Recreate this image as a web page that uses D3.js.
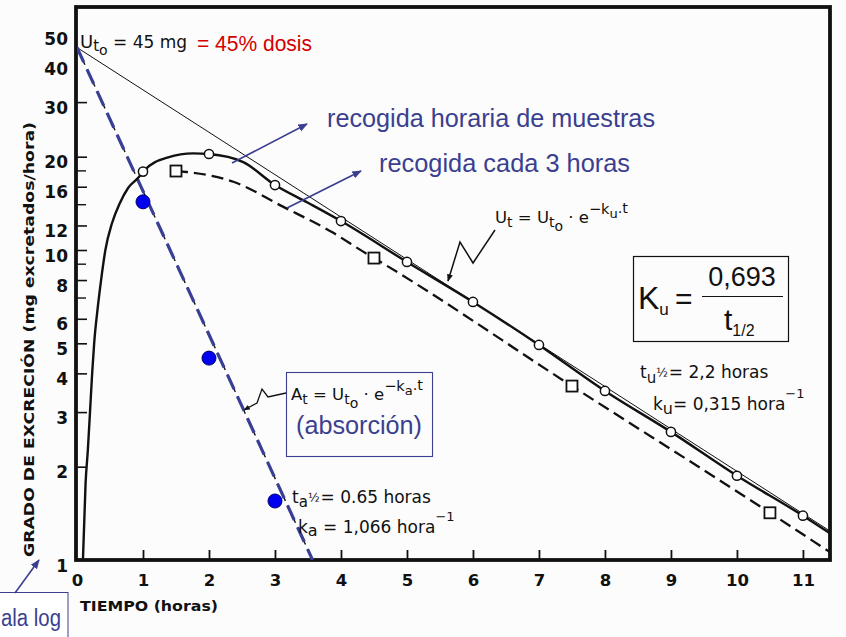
<!DOCTYPE html>
<html>
<head>
<meta charset="utf-8">
<script src="https://cdn.jsdelivr.net/npm/d3@7"></script>
<style>
  body { margin: 0; background: #fcfcfc; }
  svg { display: block; }
</style>
</head>
<body>
<svg id="chart" width="846" height="637"></svg>
<script>
// ---- Datos: excreción urinaria (mg/hora) frente al tiempo (horas) ----
// Recogida horaria de muestras (círculos abiertos)
const horasMuestreo = [1, 2, 3, 4, 5, 6, 7, 8, 9, 10, 11];
const excrecionHoraria = [17.9, 20.4, 16.2, 12.4, 9.15, 6.8, 4.94, 3.51, 2.59, 1.87, 1.39];

// Trazado de la curva continua (recogida horaria)
const curvaHorariaT = [0.09, 0.13, 0.164, 0.197, 0.23, 0.26, 0.31, 0.365, 0.43, 0.53, 0.645, 0.774, 0.927,
  1, 1.38, 1.76, 2, 2.52, 3, 3.5, 4, 5, 6, 7, 8, 9, 10, 11, 11.41];
const curvaHorariaV = [1.0, 1.77, 2.26, 3.0, 4.01, 5.0, 6.4, 8.0, 10.0, 12.2, 14.1, 15.85, 17.1,
  17.9, 19.9, 20.5, 20.4, 19.2, 16.2, 14.2, 12.4, 9.15, 6.8, 4.94, 3.51, 2.59, 1.87, 1.39, 1.22];

// Recogida cada 3 horas (cuadrados, punto medio del intervalo)
const horasTramo3h = [1.5, 4.5, 7.5, 10.5];
const excrecionTramo3h = [17.98, 9.42, 3.64, 1.42];

// Trazado de la curva discontinua (recogida cada 3 horas)
const curva3hT = [1.5, 1.66, 2.37, 3.12, 3.87, 4.37, 4.5, 7.5, 10.5, 11.41];
const curva3hV = [17.98, 17.85, 16.6, 13.8, 11.4, 9.78, 9.42, 3.64, 1.42, 1.06];

// Residuales de absorción (círculos azules)
const horasResiduales = [1, 2, 3];
const residuales = [14.3, 4.48, 1.55];

// Rectas: Ut = Uto·e^(-ku·t)  y  At = Uto·e^(-ka·t), con Uto = 45 mg
const uto = 45;
const rectaEliminacionT = [0, 11.41];
const rectaEliminacionV = [uto, 1.24];
const rectaAbsorcionT = [0, 3.57];
const rectaAbsorcionV = [uto, 1.0];

// Ejes
const ticksX = [0, 1, 2, 3, 4, 5, 6, 7, 8, 9, 10, 11];
const ticksY = [1, 2, 3, 4, 5, 6, 8, 10, 12, 16, 20, 30, 40, 50];
const ticksYMenores = [7, 9, 14, 18];

// ---- Escalas ----
const mLeft = 77, mRight = 830, mTop = 7, mBottom = 560;
const x = d3.scaleLinear().domain([0, 11.41]).range([mLeft, mRight]);
const y = d3.scaleLog().domain([1, 60.8]).range([mBottom, mTop]);

const svg = d3.select("#chart");
const navy = "#3b3f8f";
const blue = "#0000f0";
const red = "#d40000";

const defs = svg.append("defs");
defs.append("clipPath").attr("id", "plotArea")
  .append("rect").attr("x", mLeft).attr("y", mTop).attr("width", mRight - mLeft).attr("height", mBottom - mTop);

function marker(id, color, size) {
  defs.append("marker").attr("id", id)
    .attr("viewBox", "0 0 10 10").attr("refX", 9).attr("refY", 5)
    .attr("markerWidth", size).attr("markerHeight", size)
    .attr("orient", "auto-start-reverse")
    .append("path").attr("d", "M0,1 L10,5 L0,9 Z").attr("fill", color);
}
marker("flechaAzul", navy, 6);
marker("flechaNegra", "#111", 5);

// ---- Ejes ----
const fontEje = "'DejaVu Sans', sans-serif";

const ejeY = d3.axisLeft(y).tickValues(ticksY).tickFormat(d3.format("d"))
  .tickSizeInner(-10).tickSizeOuter(0).tickPadding(9);
const gy = svg.append("g").attr("transform", `translate(${mLeft},0)`).call(ejeY);
gy.select(".domain").remove();
gy.selectAll(".tick line").attr("stroke", "#111").attr("stroke-width", 1.6);
gy.selectAll(".tick text").attr("font-family", fontEje).attr("font-weight", "bold")
  .attr("font-size", 17).attr("fill", "#111").attr("dy", "0.65em");
gy.selectAll(".tick").filter(d => d === 1 || d === 50 || d === 40).select("line").remove();

svg.append("g").selectAll("line").data(ticksYMenores).join("line")
  .attr("x1", mLeft).attr("x2", mLeft + 9)
  .attr("y1", d => y(d)).attr("y2", d => y(d))
  .attr("stroke", "#111").attr("stroke-width", 1.4);

const ejeX = d3.axisBottom(x).tickValues(ticksX).tickFormat(d3.format("d"))
  .tickSizeInner(-10).tickSizeOuter(0).tickPadding(14);
const gx = svg.append("g").attr("transform", `translate(0,${mBottom})`).call(ejeX);
gx.select(".domain").remove();
gx.selectAll(".tick line").attr("stroke", "#111").attr("stroke-width", 1.8);
gx.selectAll(".tick").filter(d => d === 0).select("line").remove();
gx.selectAll(".tick text").attr("font-family", fontEje).attr("font-weight", "bold")
  .attr("font-size", 16.5).attr("fill", "#111");

// Marco del gráfico
svg.append("rect").attr("x", mLeft - 1).attr("y", mTop).attr("width", mRight - mLeft + 1).attr("height", mBottom - mTop)
  .attr("fill", "none").attr("stroke", "#111").attr("stroke-width", 3.8);

// Títulos de ejes
svg.append("text")
  .attr("transform", "translate(34,557) rotate(-90)")
  .attr("font-family", fontEje).attr("font-weight", "bold").attr("font-size", 14.5)
  .attr("fill", "#111")
  .attr("textLength", 435).attr("lengthAdjust", "spacingAndGlyphs")
  .text("GRADO DE EXCRECIÓN  (mg excretados/hora)");

svg.append("text").attr("x", 80).attr("y", 611)
  .attr("font-family", fontEje).attr("font-weight", "bold").attr("font-size", 14.5)
  .attr("fill", "#111")
  .attr("textLength", 138).attr("lengthAdjust", "spacingAndGlyphs")
  .text("TIEMPO (horas)");

// ---- Series ----
const plot = svg.append("g").attr("clip-path", "url(#plotArea)");
const linea = d3.line().x(d => x(d[0])).y(d => y(d[1]));
const lineaSuave = d3.line().x(d => x(d[0])).y(d => y(d[1])).curve(d3.curveMonotoneX);

// Recta de eliminación extrapolada (trazo fino)
plot.append("path").datum(d3.zip(rectaEliminacionT, rectaEliminacionV))
  .attr("d", linea).attr("fill", "none").attr("stroke", "#111").attr("stroke-width", 1);

// Recta de absorción: trazo negro discontinuo y trazo azul superpuesto
plot.append("path").datum(d3.zip(rectaAbsorcionT, rectaAbsorcionV))
  .attr("d", linea).attr("fill", "none").attr("stroke", "#111").attr("stroke-width", 1.4)
  .attr("stroke-dasharray", "7,5");
plot.append("path").datum(d3.zip(rectaAbsorcionT, rectaAbsorcionV))
  .attr("d", linea).attr("fill", "none").attr("stroke", "#3a3f96").attr("stroke-width", 3.2)
  .attr("stroke-dasharray", "16,8");

// Curva de recogida horaria (continua)
plot.append("path").datum(d3.zip(curvaHorariaT, curvaHorariaV))
  .attr("d", lineaSuave).attr("fill", "none").attr("stroke", "#111").attr("stroke-width", 2.4);

// Curva de recogida cada 3 horas (discontinua)
plot.append("path").datum(d3.zip(curva3hT, curva3hV))
  .attr("d", lineaSuave).attr("fill", "none").attr("stroke", "#111").attr("stroke-width", 2.3)
  .attr("stroke-dasharray", "12,6");

// Puntos
plot.append("g").selectAll("circle").data(d3.zip(horasMuestreo, excrecionHoraria)).join("circle")
  .attr("cx", d => x(d[0])).attr("cy", d => y(d[1])).attr("r", 4.6)
  .attr("fill", "#fff").attr("stroke", "#111").attr("stroke-width", 1.5);

const lado = 11;
plot.append("g").selectAll("rect").data(d3.zip(horasTramo3h, excrecionTramo3h)).join("rect")
  .attr("x", d => x(d[0]) - lado / 2).attr("y", d => y(d[1]) - lado / 2)
  .attr("width", lado).attr("height", lado)
  .attr("fill", "#fff").attr("stroke", "#111").attr("stroke-width", 1.8);

plot.append("g").selectAll("circle").data(d3.zip(horasResiduales, residuales)).join("circle")
  .attr("cx", d => x(d[0])).attr("cy", d => y(d[1])).attr("r", 7)
  .attr("fill", blue).attr("stroke", "#00006a").attr("stroke-width", 1);

// ---- Anotaciones ----
// Texto con subíndices/superíndices: cada parte lleva su desplazamiento de línea base
function rich(px, py, parts, opts) {
  const t = svg.append("text").attr("x", px).attr("y", py)
    .attr("font-family", opts.family).attr("fill", opts.color || "#111");
  let prev = 0;
  parts.forEach(p => {
    const off = p.off || 0;
    const ts = t.append("tspan").attr("font-size", p.size || opts.size)
      .attr("dy", off - prev).text(p.t);
    if (p.dx) ts.attr("dx", p.dx);
    prev = off;
  });
  return t;
}
const fontScan = "'DejaVu Sans', sans-serif";
const fontSlide = "'Liberation Sans', Arial, sans-serif";

// Uto = 45 mg = 45% dosis
rich(80, 48, [
  { t: "U", size: 18 }, { t: "t", size: 15, off: 3 }, { t: "o", size: 14, off: 7 },
  { t: " = 45 mg", off: 0 }
], { family: fontScan, size: 17 });
svg.append("text").attr("x", 197).attr("y", 51)
  .attr("font-family", fontSlide).attr("font-size", 22).attr("fill", red)
  .attr("textLength", 115).attr("lengthAdjust", "spacingAndGlyphs")
  .text("= 45% dosis");

// Etiquetas de las curvas
svg.append("text").attr("x", 327).attr("y", 127)
  .attr("font-family", fontSlide).attr("font-size", 25).attr("fill", navy)
  .attr("textLength", 328).attr("lengthAdjust", "spacingAndGlyphs")
  .text("recogida horaria de muestras");
svg.append("text").attr("x", 379).attr("y", 172)
  .attr("font-family", fontSlide).attr("font-size", 25).attr("fill", navy)
  .attr("textLength", 251).attr("lengthAdjust", "spacingAndGlyphs")
  .text("recogida cada 3 horas");

svg.append("line").attr("x1", 232).attr("y1", 163).attr("x2", 307).attr("y2", 124)
  .attr("stroke", navy).attr("stroke-width", 1.6).attr("marker-end", "url(#flechaAzul)");
svg.append("line").attr("x1", 287).attr("y1", 208).attr("x2", 361).attr("y2", 171)
  .attr("stroke", navy).attr("stroke-width", 1.6).attr("marker-end", "url(#flechaAzul)");

// Ut = Uto · e^(-ku·t)
rich(495, 223, [
  { t: "U" }, { t: "t", size: 14, off: 4 },
  { t: " = U", off: 0 }, { t: "t", size: 14, off: 4 }, { t: "o", size: 14, off: 8 },
  { t: " · e", off: 0 }, { t: "−k", size: 14.5, off: -9 }, { t: "u", size: 13, off: -5 },
  { t: ".t", size: 14.5, off: -10 }
], { family: fontScan, size: 16.5 });
svg.append("polyline").attr("points", "495,230 473,263 460,242 448,281")
  .attr("fill", "none").attr("stroke", "#111").attr("stroke-width", 1.5)
  .attr("marker-end", "url(#flechaNegra)");

// Recuadro Ku = 0,693 / t1/2
svg.append("rect").attr("x", 633.5).attr("y", 256.5).attr("width", 155).attr("height", 85)
  .attr("fill", "none").attr("stroke", "#111").attr("stroke-width", 1.2);
rich(638, 309, [{ t: "K" }, { t: "u", size: 17, off: 6 }], { family: fontSlide, size: 32 });
svg.append("text").attr("x", 675).attr("y", 309).attr("font-family", fontSlide)
  .attr("font-size", 30).attr("fill", "#111").text("=");
svg.append("text").attr("x", 742).attr("y", 286).attr("text-anchor", "middle")
  .attr("font-family", fontSlide).attr("font-size", 27).attr("fill", "#111").text("0,693");
svg.append("line").attr("x1", 702).attr("x2", 783).attr("y1", 296.5).attr("y2", 296.5)
  .attr("stroke", "#111").attr("stroke-width", 1.2);
rich(724, 330, [{ t: "t" }, { t: "1/2", size: 16, off: 6 }], { family: fontSlide, size: 30 });

// Parámetros de eliminación
rich(640, 378, [
  { t: "t" }, { t: "u", size: 15, off: 5 }, { t: "½", size: 12, off: -1 },
  { t: "= 2,2 horas", off: 0, dx: 1 }
], { family: fontScan, size: 17 });
rich(653, 410, [
  { t: "k" }, { t: "u", size: 16, off: 4 }, { t: "= 0,315  hora", off: 0 },
  { t: "−1", size: 13, off: -12 }
], { family: fontScan, size: 17 });

// Recuadro de absorción
svg.append("rect").attr("x", 286.5).attr("y", 372.5).attr("width", 146).attr("height", 84)
  .attr("fill", "none").attr("stroke", navy).attr("stroke-width", 1.1);
rich(291, 400, [
  { t: "A" }, { t: "t", size: 14, off: 4 },
  { t: " = U", off: 0 }, { t: "t", size: 14, off: 4 }, { t: "o", size: 14, off: 8 },
  { t: " · e", off: 0 }, { t: "−k", size: 14.5, off: -9 }, { t: "a", size: 13, off: -5 },
  { t: ".t", size: 14.5, off: -10 }
], { family: fontScan, size: 16.5 });
svg.append("text").attr("x", 296).attr("y", 434)
  .attr("font-family", fontSlide).attr("font-size", 25).attr("fill", navy)
  .attr("textLength", 126).attr("lengthAdjust", "spacingAndGlyphs")
  .text("(absorción)");
svg.append("polyline").attr("points", "286,393 268,397 262,389 257,403 244,410")
  .attr("fill", "none").attr("stroke", "#111").attr("stroke-width", 1.3)
  .attr("marker-end", "url(#flechaNegra)");

// Parámetros de absorción
rich(292, 503, [
  { t: "t" }, { t: "a", size: 15, off: 4 }, { t: "½", size: 12, off: -1 },
  { t: "= 0.65 horas", off: 0, dx: 1 }
], { family: fontScan, size: 17 });
rich(298, 533, [
  { t: "k" }, { t: "a", size: 16, off: 3 }, { t: " = 1,066 hora", off: 0 },
  { t: "−1", size: 13, off: -12 }
], { family: fontScan, size: 17 });

// Escala log
svg.append("rect").attr("x", -2).attr("y", 592.5).attr("width", 70).attr("height", 50)
  .attr("fill", "#fff").attr("stroke", navy).attr("stroke-width", 1);
svg.append("text").attr("x", 1).attr("y", 626)
  .attr("font-family", fontSlide).attr("font-size", 23).attr("fill", navy)
  .attr("textLength", 60).attr("lengthAdjust", "spacingAndGlyphs")
  .text("ala log");
svg.append("line").attr("x1", 15).attr("y1", 593).attr("x2", 39).attr("y2", 560)
  .attr("stroke", navy).attr("stroke-width", 1.6).attr("marker-end", "url(#flechaAzul)");
</script>
</body>
</html>
